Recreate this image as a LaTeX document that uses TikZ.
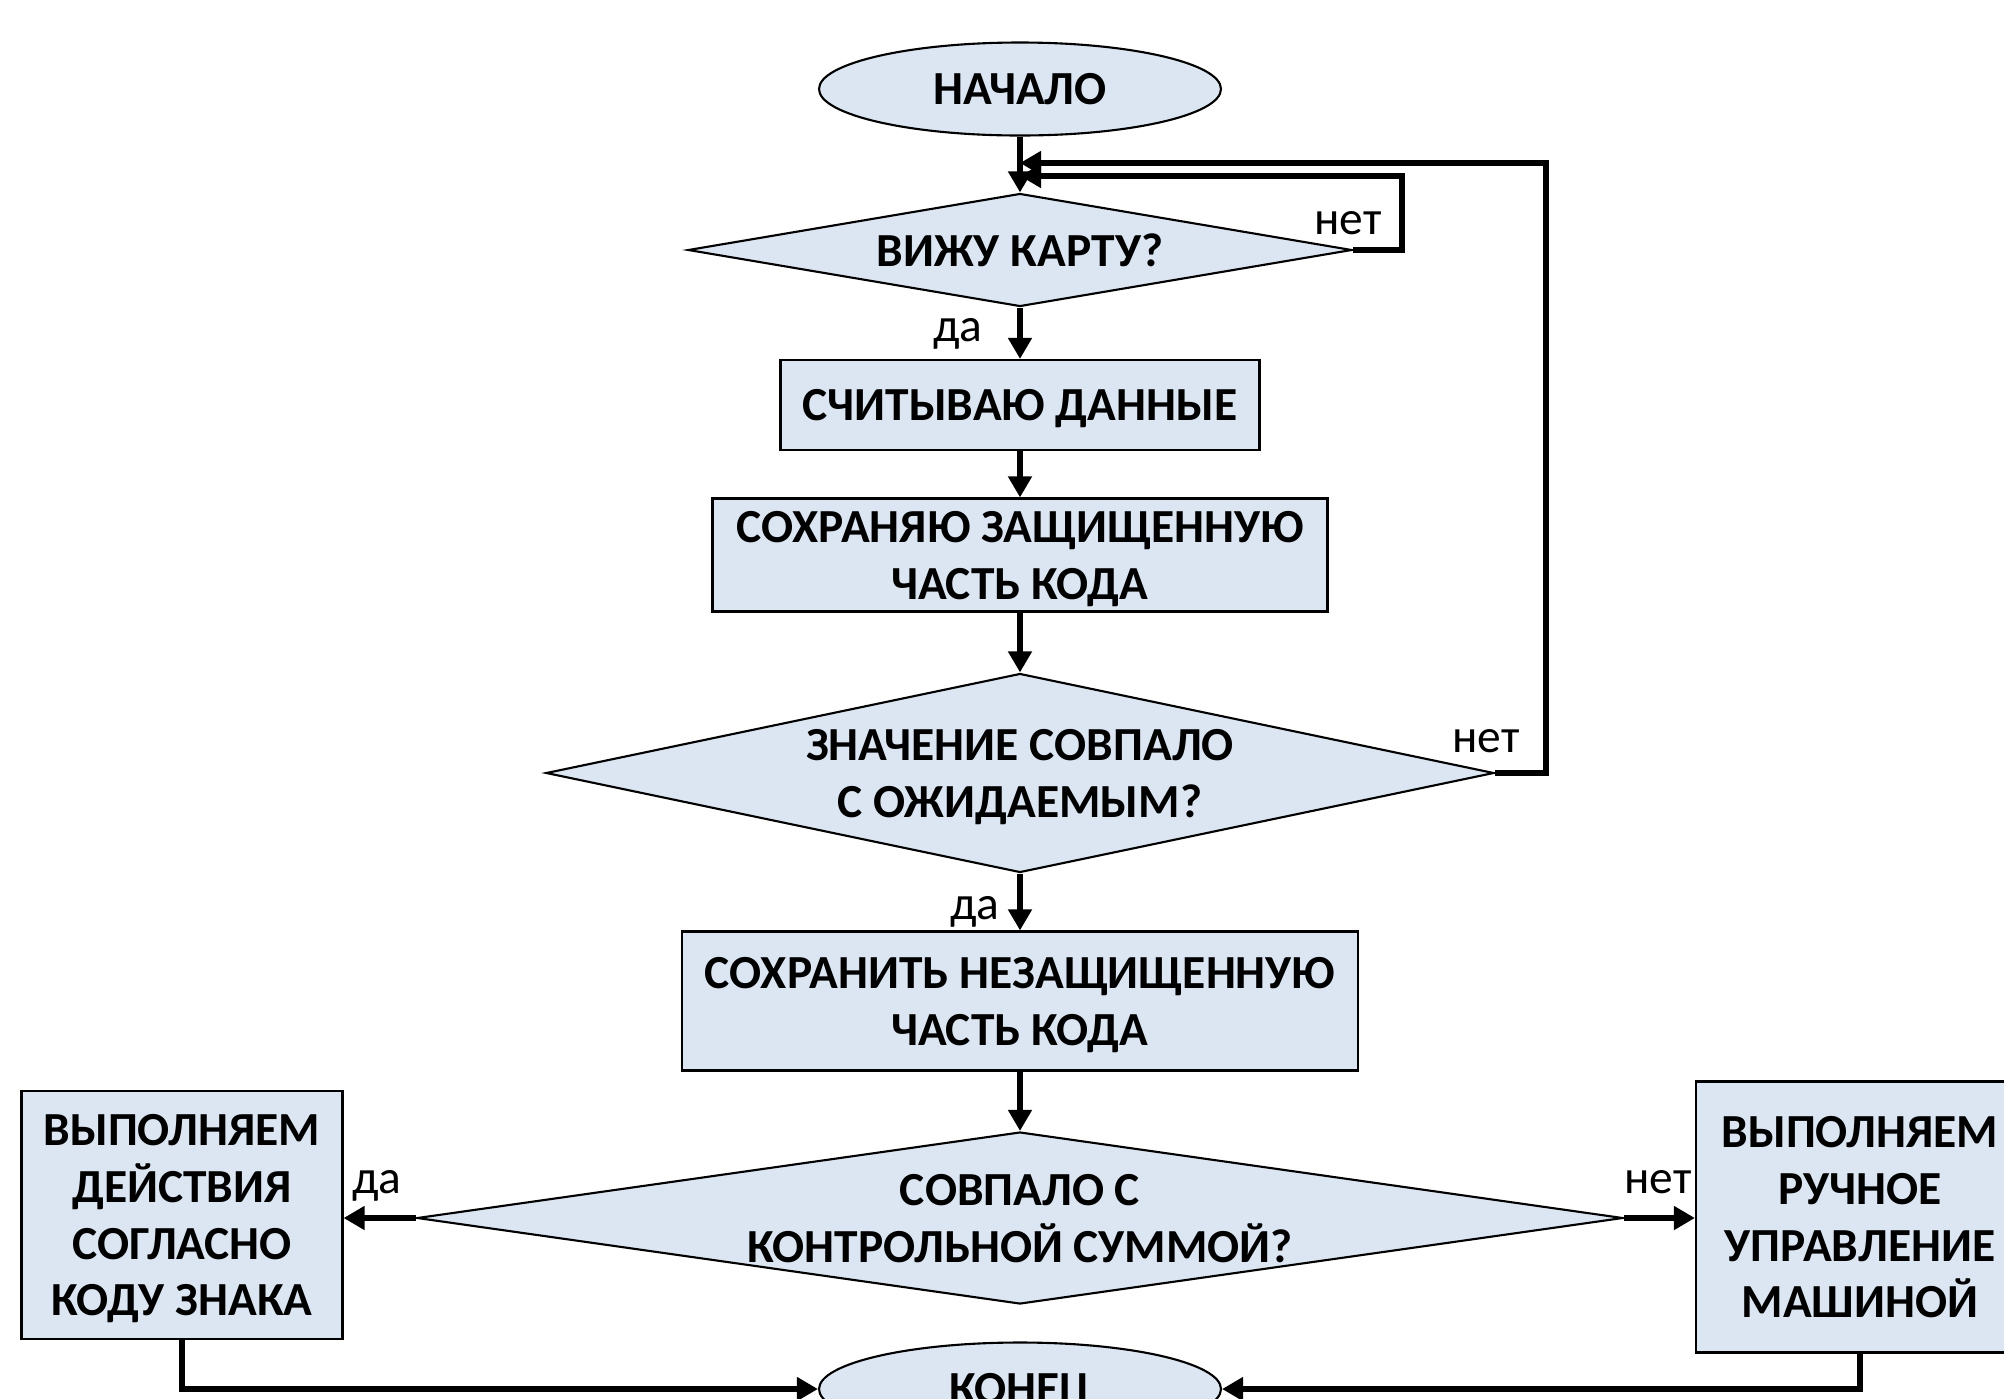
\documentclass[tikz,border=0pt]{standalone}
\usepackage{fontspec}
\setmainfont{Carlito}
\usetikzlibrary{shapes.geometric,arrows.meta}
\definecolor{blockfill}{HTML}{DCE6F2}

\begin{document}
\begin{tikzpicture}[x=0.1mm,y=0.1mm]
    \tikzstyle{every node}+=[inner sep=0pt]
    \tikzstyle{block}=[draw=black, line width=0.6pt, fill=blockfill, align=center, text depth=0pt, font=\bfseries\fontsize{13.5}{16.2}\selectfont]
    \tikzstyle{term}=[block, ellipse, minimum width=4.02cm, minimum height=0.93cm]
    \tikzstyle{proc}=[block, rectangle]
    \tikzstyle{cond}=[block, diamond]
    \tikzstyle{link}=[line width=1.5pt, -{Triangle[width=6.5pt,length=6pt]}]
    \tikzstyle{answer}=[text depth=0pt, font=\fontsize{13.5}{16.2}\selectfont]
    \useasboundingbox (0,0) rectangle (2004,-1398);
    \clip (0,0) rectangle (2004,-1398);
    \node[term] (start) at (1020,-89) {НАЧАЛО};
    \node[cond, shape aspect=5.88, minimum width=6.64cm, minimum height=1.13cm] (see) at (1020,-250) {ВИЖУ КАРТУ?};
    \node[proc, minimum width=4.79cm, minimum height=0.90cm] (read) at (1020,-405) {СЧИТЫВАЮ ДАННЫЕ};
    \node[proc, minimum width=6.15cm, minimum height=1.13cm] (keep) at (1020,-555) {СОХРАНЯЮ ЗАЩИЩЕННУЮ\\ЧАСТЬ КОДА};
    \node[cond, shape aspect=4.76, minimum width=9.48cm, minimum height=1.99cm] (match) at (1020,-773) {ЗНАЧЕНИЕ СОВПАЛО\\С ОЖИДАЕМЫМ?};
    \node[proc, minimum width=6.76cm, minimum height=1.39cm] (store) at (1020,-1001) {СОХРАНИТЬ НЕЗАЩИЩЕННУЮ\\ЧАСТЬ КОДА};
    \node[cond, shape aspect=7.01, minimum width=12.06cm, minimum height=1.72cm] (sum) at (1020,-1218) {СОВПАЛО С\\КОНТРОЛЬНОЙ СУММОЙ?};
    \node[proc, minimum width=3.21cm, minimum height=2.48cm] (act) at (182,-1215) {ВЫПОЛНЯЕМ\\ДЕЙСТВИЯ\\СОГЛАСНО\\КОДУ ЗНАКА};
    \node[proc, minimum width=3.28cm, minimum height=2.71cm] (manual) at (1860,-1217) {ВЫПОЛНЯЕМ\\РУЧНОЕ\\УПРАВЛЕНИЕ\\МАШИНОЙ};
    \node[term] (stop) at (1020,-1389) {КОНЕЦ};
    \coordinate (loopA) at (1402,-176);
    \coordinate (loopB) at (1546,-163);
    \draw[link] (start) -- (see);
    \draw[link] (see) -- (read);
    \draw[link] (read) -- (keep);
    \draw[link] (keep) -- (match);
    \draw[link] (match) -- (store);
    \draw[link] (store) -- (sum);
    \draw[link] (see.east) -| (loopA) -- (loopA -| see.north);
    \draw[link] (match.east) -| (loopB) -- (loopB -| see.north);
    \draw[link] (sum.west) -- (sum.west -| act.east);
    \draw[link] (sum.east) -- (sum.east -| manual.west);
    \draw[link] (act.south) |- (stop.west);
    \draw[link] (manual.south) |- (stop.east);
    \node[answer] (no1) at (1348,-223) {нет};
    \node[answer] (yes1) at (958,-330) {да};
    \node[answer] (no2) at (1486,-741) {нет};
    \node[answer] (yes2) at (975,-908) {да};
    \node[answer] (yes3) at (377,-1182) {да};
    \node[answer] (no3) at (1658,-1182) {нет};
\end{tikzpicture}
\end{document}
